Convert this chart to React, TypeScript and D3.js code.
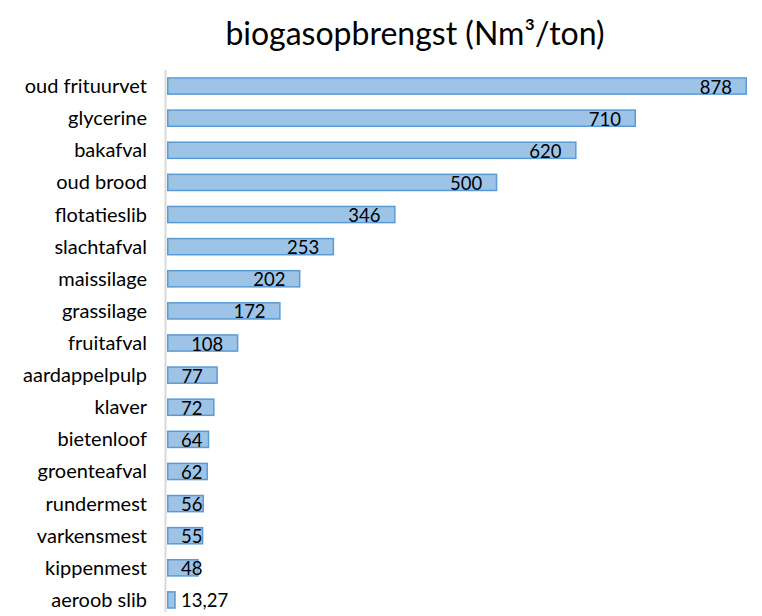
import React, { useEffect, useRef } from "react";
import * as d3 from "d3";

const categories = [
  "oud frituurvet", "glycerine", "bakafval", "oud brood", "flotatieslib",
  "slachtafval", "maissilage", "grassilage", "fruitafval", "aardappelpulp",
  "klaver", "bietenloof", "groenteafval", "rundermest", "varkensmest",
  "kippenmest", "aeroob slib",
];
const values = [878, 710, 620, 500, 346, 253, 202, 172, 108, 77, 72, 64, 62, 56, 55, 48, 13.27];
const valueLabels = ["878", "710", "620", "500", "346", "253", "202", "172", "108", "77", "72", "64", "62", "56", "55", "48", "13,27"];
const title = "biogasopbrengst (Nm³/ton)";

const W = 762;
const H = 616;
const FONT = "Lato, 'Open Sans', sans-serif";

export default function App() {
  const ref = useRef<SVGSVGElement | null>(null);

  useEffect(() => {
    const svg = d3.select(ref.current);
    svg.selectAll("*").remove();

    const x = d3.scaleLinear().domain([0, 878]).range([167, 747]);
    const y = d3.scaleBand<string>().domain(categories).range([70, 616]).paddingInner(0.45).paddingOuter(0.225);

    svg.append("text")
      .attr("x", 415).attr("y", 45)
      .attr("text-anchor", "middle")
      .attr("font-family", FONT).attr("font-size", 32).attr("fill", "#000")
      .text(title);

    svg.append("line")
      .attr("x1", 165.5).attr("x2", 165.5).attr("y1", 70).attr("y2", 612)
      .attr("stroke", "#d9d9d9").attr("stroke-width", 2);

    const data = categories.map((c, i) => ({ c, v: values[i], l: valueLabels[i] }));

    svg.selectAll("rect.bar").data(data).enter().append("rect")
      .attr("class", "bar")
      .attr("x", x(0) + 0.75)
      .attr("y", (d) => (y(d.c) as number) + 0.75)
      .attr("width", (d) => Math.max(0, x(d.v) - x(0) - 1.5))
      .attr("height", y.bandwidth() - 1.5)
      .attr("fill", "#9dc3e6").attr("stroke", "#5b9bd5").attr("stroke-width", 1.5);

    svg.selectAll("text.cat").data(data).enter().append("text")
      .attr("class", "cat")
      .attr("x", 147)
      .attr("y", (d) => (y(d.c) as number) + y.bandwidth() / 2 + 7)
      .attr("text-anchor", "end")
      .attr("font-family", FONT).attr("font-size", 20).attr("fill", "#000")
      .text((d) => d.c);

    const vl = svg.selectAll("text.val").data(data).enter().append("text")
      .attr("class", "val")
      .attr("y", (d) => (y(d.c) as number) + y.bandwidth() / 2 + 7.5)
      .attr("font-family", FONT).attr("font-size", 18.5).attr("fill", "#000")
      .text((d) => d.l);
    vl.each(function (d) {
      const el = this as SVGTextElement;
      const w = el.getComputedTextLength();
      const sx = Math.max(x(d.v) - 15 - w, x(0) + 14);
      d3.select(el).attr("x", sx);
    });
  }, []);

  return (
    <div style={{ position: "absolute", left: 0, top: 0, width: W, height: H }}>
      <svg ref={ref} width={W} height={H} style={{ display: "block", background: "#fff" }} />
    </div>
  );
}
